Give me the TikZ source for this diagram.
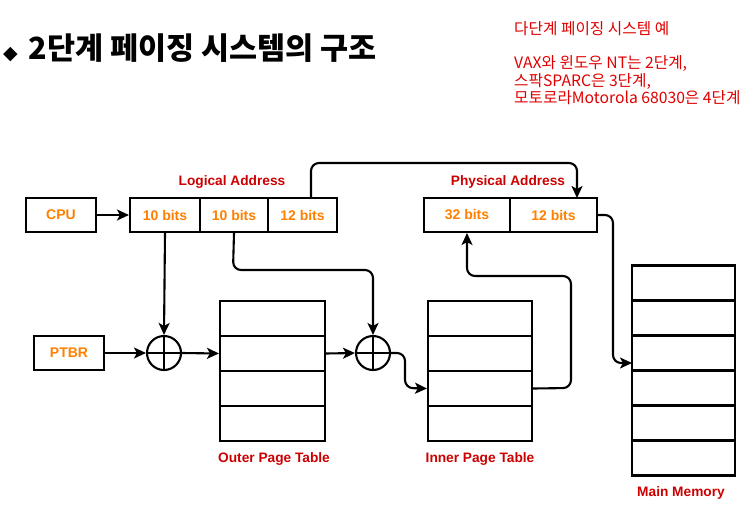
\documentclass[tikz,border=0pt]{standalone}
\usepackage{fontspec}
\setmainfont{Liberation Sans}
\newfontfamily\kr{Noto Sans CJK KR}
\newfontfamily\dejavu{DejaVu Sans}
\usetikzlibrary{arrows.meta}
\definecolor{lblred}{HTML}{CC0000}
\definecolor{noteRed}{HTML}{E00000}
\definecolor{bitorange}{HTML}{FF8000}
\begin{document}
\begin{tikzpicture}[x=1pt,y=-1pt,
  box/.style={draw,line width=2.1pt,minimum height=34pt,inner sep=0pt,font=\fontsize{14}{16}\selectfont\bfseries,text=bitorange},
  lbl/.style={font=\fontsize{13.7}{16}\selectfont\bfseries,text=lblred},
  conn/.style={line width=2.1pt,rounded corners=8pt,-{Stealth[length=12pt,width=11pt,inset=3pt]}},
  adder/.style={draw,line width=2.1pt,circle,minimum size=34pt,inner sep=0pt},
  row/.style={draw,line width=2.1pt,minimum width=105pt,minimum height=35pt,inner sep=0pt}]
\useasboundingbox (0,0) rectangle (751,508);
% title
\node[anchor=west,inner sep=0pt] (title) at (3,48) {{\dejavu\fontsize{19}{20}\selectfont ◆}\hspace{11pt}{\kr\bfseries\fontsize{30.5}{33}\selectfont 2단계 페이징 시스템의 구조}};
% note
\node[anchor=north west,align=left,inner sep=0pt,text=noteRed,font=\kr\fontsize{15.7}{17.5}\selectfont] (note) at (514,21)
 {다단계 페이징 시스템 예\\[17pt]VAX와 윈도우 NT는 2단계,\\스팍SPARC은 3단계,\\모토로라Motorola 68030은 4단계};
% CPU and logical address
\node[box,minimum width=70pt] (cpu) at (61,215) {CPU};
\node[box,minimum width=70pt] (la1) at (165,215) {10 bits};
\node[box,minimum width=68pt] (la2) at (234,215) {10 bits};
\node[box,minimum width=69pt] (la3) at (302.5,215) {12 bits};
\node[lbl] (lal) at (232,182) {Logical Address};
\coordinate (la3up) at (311,198);
% physical address
\node[box,minimum width=86pt] (pa1) at (467,215) {32 bits};
\node[box,minimum width=87pt] (pa2) at (553.5,215) {12 bits};
\node[lbl] (pal) at (508,182) {Physical Address};
\coordinate (pa2in) at (577,198);
% PTBR
\node[box,minimum width=70pt] (ptbr) at (69,353) {PTBR};
% adders
\node[adder] (ad1) at (164,353) {};
\draw[line width=2.1pt] (ad1.north)--(ad1.south) (ad1.west)--(ad1.east);
\node[adder] (ad2) at (373,353) {};
\draw[line width=2.1pt] (ad2.north)--(ad2.south) (ad2.west)--(ad2.east);
% outer page table
\foreach \i in {1,...,4}{\node[row] (o\i) at (272.5,283.5+35*\i) {};}
\node[lbl] (olbl) at (274,459) {Outer Page Table};
% inner page table
\foreach \i in {1,...,4}{\node[row,minimum width=104pt] (n\i) at (480,283.5+35*\i) {};}
\node[lbl] (nlbl) at (480,459) {Inner Page Table};
% main memory
\foreach \i in {1,...,6}{\node[row,minimum width=103pt] (m\i) at (683.5,248+35*\i) {};}
\node[lbl] (mlbl) at (681,493) {Main Memory};
\coordinate (min) at (632,363);
% connectors
\draw[conn] (cpu.east) -- (la1.west);
\draw[conn] (la1.south) -- (ad1.north);
\draw[conn] (ptbr.east) -- (ad1.west);
\draw[conn] (ad1.east) -- (o2.west);
\draw[conn] (o2.east) -- (ad2.west);
\draw[conn] (la2.south) -- (233,270) -- (373,270) -- (ad2.north);
\draw[conn] (ad2.east) -- (405,353) -- (405,388) -- (n3.west);
\draw[conn] (n3.east) -- (571,388) -- (571,276) -- (467,276) -- (pa1.south);
\draw[conn] (la3up) -- (311,163) -- (577,163) -- (pa2in);
\draw[conn] (pa2.east) -- (613,215) -- (613,363) -- (min);
\end{tikzpicture}
\end{document}
